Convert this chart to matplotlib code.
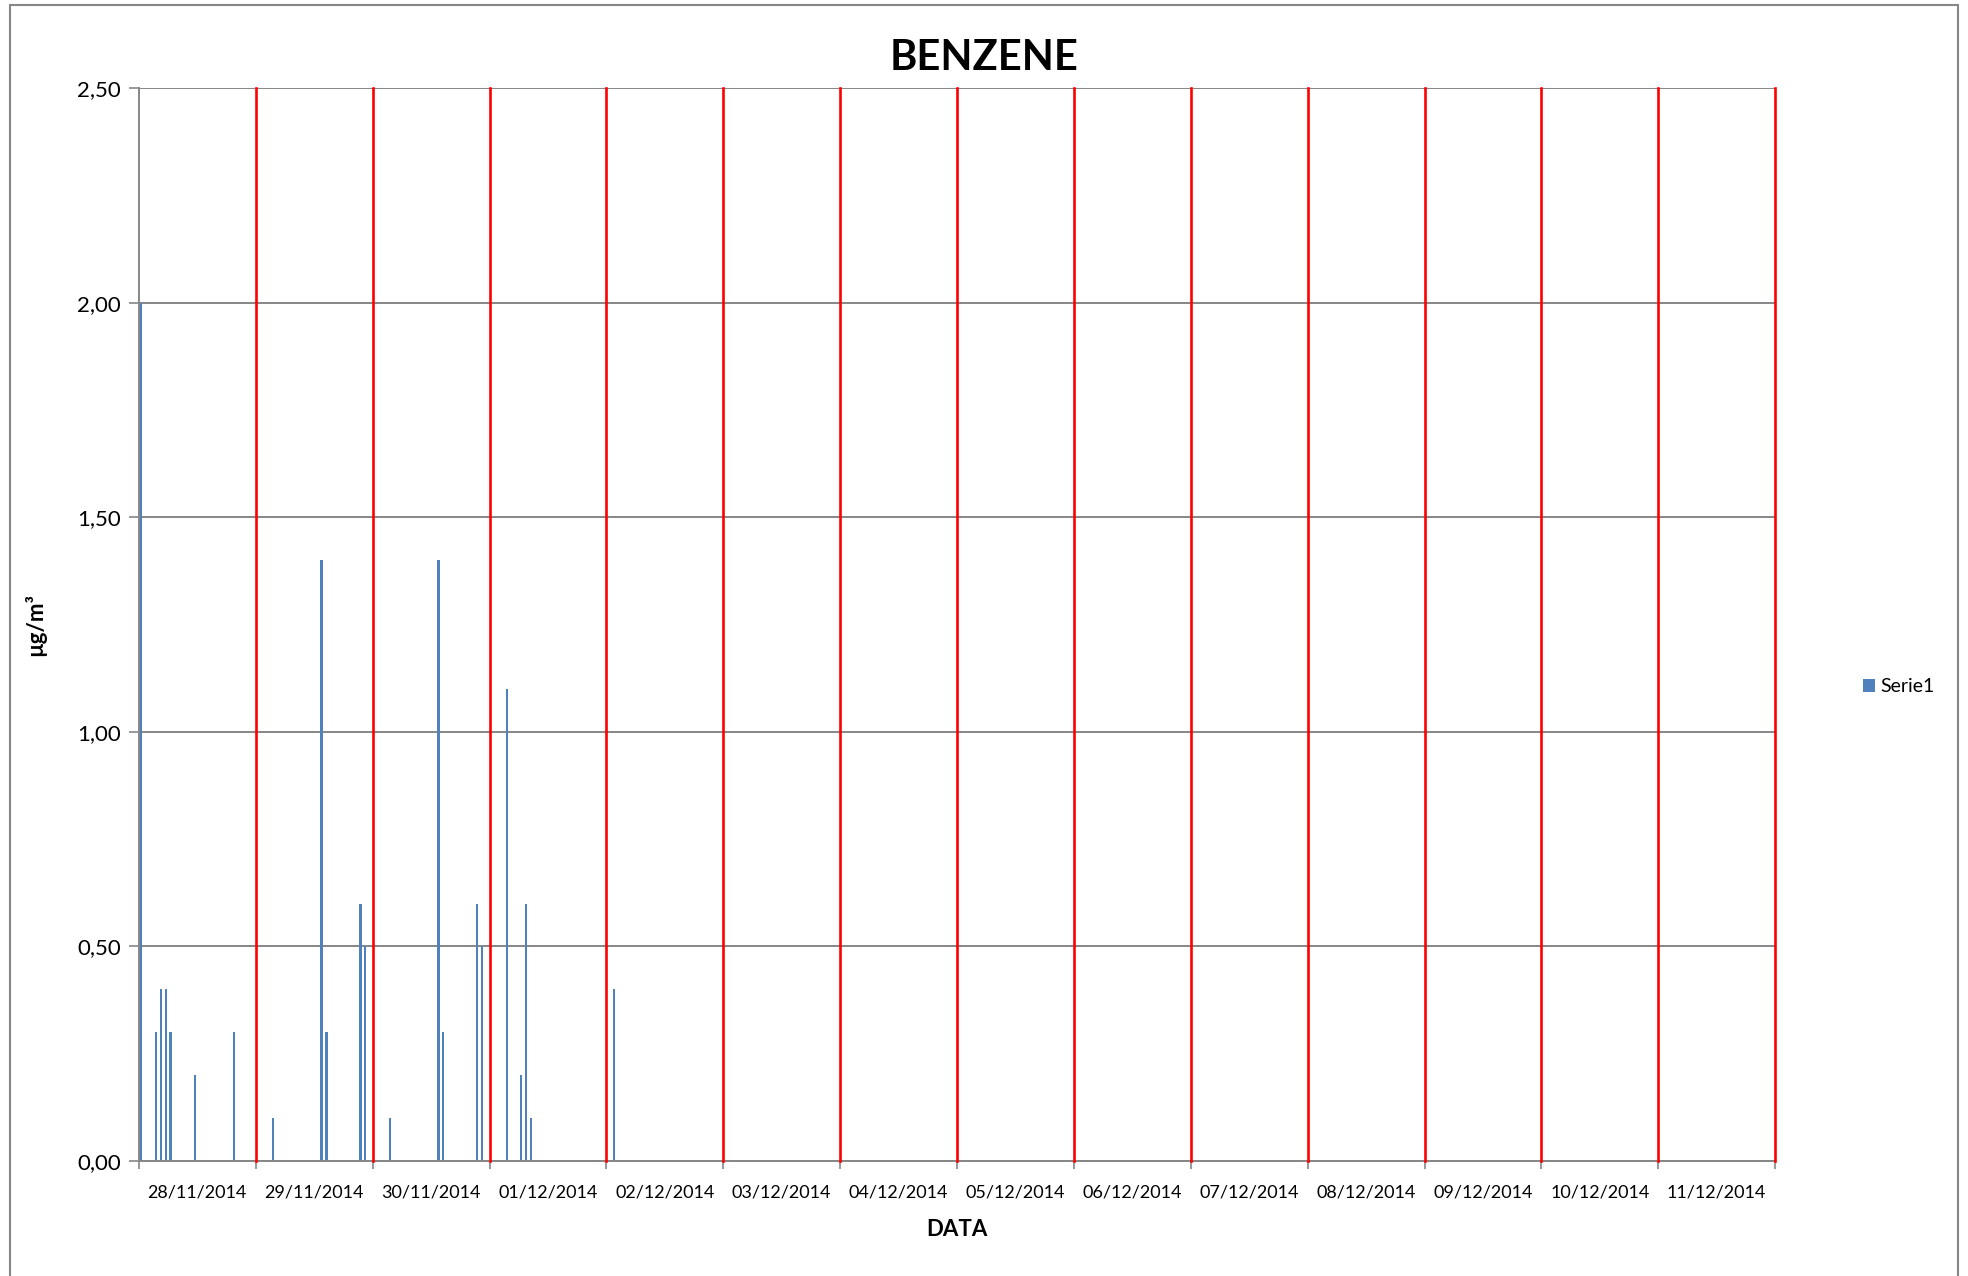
import numpy as np
import matplotlib.pyplot as plt
from matplotlib.patches import Rectangle

plt.rcParams['font.family'] = ['Lato', 'DejaVu Sans']

# hourly benzene readings (hour index from 28/11/2014 00:00), other hours empty
bar_hour = [0, 3, 4, 5, 6, 11, 19, 27, 37, 38, 45, 46, 51, 61, 62, 69, 70, 75, 78, 79, 80, 97]
bar_value = [2.0, 0.3, 0.4, 0.4, 0.3, 0.2, 0.3, 0.1, 1.4, 0.3, 0.6, 0.5, 0.1, 1.4, 0.3, 0.6, 0.5,
             1.1, 0.2, 0.6, 0.1, 0.4]
day_labels = ['28/11/2014', '29/11/2014', '30/11/2014', '01/12/2014', '02/12/2014', '03/12/2014',
              '04/12/2014', '05/12/2014', '06/12/2014', '07/12/2014', '08/12/2014', '09/12/2014',
              '10/12/2014', '11/12/2014']
y_ticks = [0.0, 0.5, 1.0, 1.5, 2.0, 2.5]

n_days = len(day_labels)
fig = plt.figure(figsize=(19.68, 12.76), dpi=100)
ax = fig.add_axes([0.0706, 0.0901, 0.902 - 0.0706, 0.931 - 0.0901])

# outer chart border
fig.patches.append(Rectangle((10 / 1968, -0.02), 1948 / 1968, 1.02 - 5 / 1276,
                             transform=fig.transFigure, fill=False, ec='#868686', lw=1.5))

ax.set_axisbelow(True)
for y in y_ticks:
    ax.axhline(y, color='#868686', lw=1.4, zorder=0)

ax.bar(np.array(bar_hour) + 0.5, bar_value, width=0.45, color='#4F81BD', label='Serie1', zorder=2)

for d in range(1, n_days + 1):
    ax.axvline(d * 24, color='#FF0000', lw=1.9, zorder=3, clip_on=False)

ax.set_xlim(0, n_days * 24)
ax.set_ylim(0, 2.5)
ax.set_xticks([d * 24 for d in range(n_days + 1)])
ax.set_xticklabels([])
ax.set_xticks([d * 24 + 12 for d in range(n_days)], minor=True)
ax.set_xticklabels(day_labels, minor=True, fontsize=13)
ax.tick_params(axis='x', which='minor', length=0, pad=17)
ax.tick_params(axis='x', which='major', length=6, color='#868686', width=1.2)
ax.set_yticks(y_ticks)
ax.set_yticklabels([('%.2f' % v).replace('.', ',') for v in y_ticks], fontsize=16)
ax.tick_params(axis='y', length=7, color='#868686', width=1.2, pad=6)

for s in ['top', 'right']:
    ax.spines[s].set_visible(False)
for s in ['left', 'bottom']:
    ax.spines[s].set_color('#868686')
    ax.spines[s].set_linewidth(1.4)

fig.text(0.5, 1 - 58 / 1276, 'BENZENE', fontsize=30, fontweight='bold', ha='center', va='center')
ax.set_xlabel('DATA', fontsize=16, fontweight='bold', labelpad=13)
ax.set_ylabel('µg/m³', fontsize=16, fontweight='bold', labelpad=22)

ax.legend(loc='center left', bbox_to_anchor=(1.043, 0.442), frameon=False, fontsize=14,
          handlelength=0.6, handleheight=0.6, handletextpad=0.3)

fig.savefig('out.png', dpi=100)
